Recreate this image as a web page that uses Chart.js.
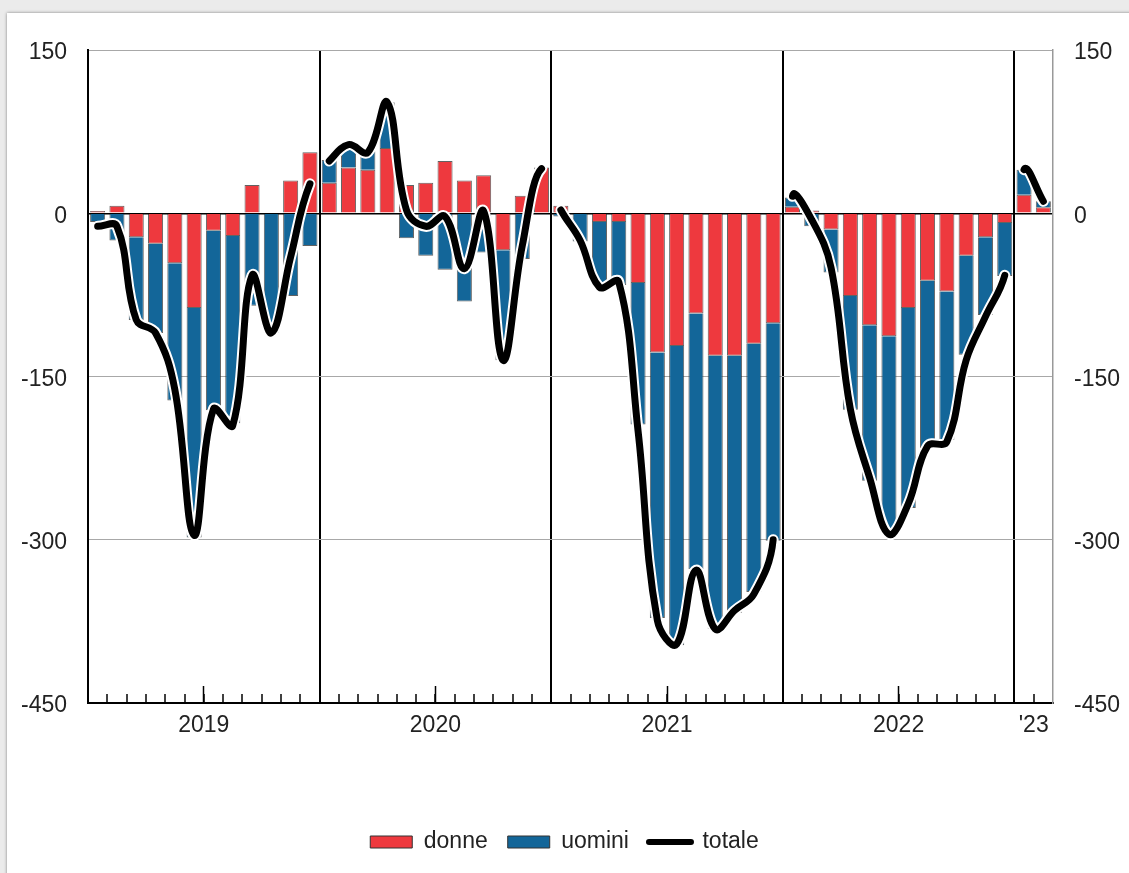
<!DOCTYPE html>
<html><head><meta charset="utf-8">
<script src="https://cdn.jsdelivr.net/npm/chart.js@4.4.0/dist/chart.umd.min.js"></script>
<style>
html,body{margin:0;padding:0;background:#ebebeb;width:1129px;height:873px;overflow:hidden;}
#panel{position:absolute;left:7px;top:13px;width:1140px;height:880px;background:#fff;box-shadow:0 0 3px rgba(0,0,0,0.45);}
#wrap{position:absolute;left:0;top:0;width:1129px;height:873px;}
</style></head><body>
<div id="panel"></div>
<div id="wrap"><canvas id="c" width="1129" height="873" style="width:1129px;height:873px"></canvas></div>
<script>
// ---- categories ----
const years = ['2019','2020','2021','2022','2023'];
const monthsPerYear = [12,12,12,12,2];
const monthNames = ['gen','feb','mar','apr','mag','giu','lug','ago','set','ott','nov','dic'];
const yearTickLabels = ['2019','2020','2021','2022',"'23"];
// ---- series (thousands) ----
const donne = [
  2, 7, -22, -28, -46, -87, -16, -21, 26, 0, 30, 56,
  28, 42, 40, 60, 26, 28, 48, 30, 35, -34, 16, 42,
  7, 0, -8, -8, -64, -128, -122, -92, -131, -131, -120, -101,
  6, 2.5, -15, -76, -103, -113, -87, -62, -72, -39, -22, -9,
  17, 5.5
];
const uomini = [
  -8, -25, -76, -82, -126, -211, -165, -172, -85, -110, -76, -30,
  21, 18, 17, 42, -23, -39, -52, -81, -36, -101, -42, -1,
  -3, -26, -58, -58, -130, -244, -275, -235, -251, -236, -228, -200,
  8.4, -12, -39.5, -104.6, -142.7, -181.7, -183.8, -153.7, -136.3, -91, -71.6, -48.7,
  23, 5.5
];
const totale = [
  -12, -12, -98, -110, -162, -296, -180, -195, -57, -110, -40, 27,
  48, 63, 56, 102, 3, -12, -3, -51, 2, -135, -30, 41,
  3, -25, -68, -63, -200, -374, -396, -328, -382, -365, -350, -300,
  15.6, -6, -50, -180, -243, -295, -267, -214, -210, -135, -95, -57,
  40, 11
];
const yMin = -450, yMax = 150, yStep = 150;

// ---- derived category helpers ----
const labels = [];
const yearStart = [];
const yearMid = {};
let k = 0;
years.forEach((y, i) => {
  yearStart.push(k);
  yearMid[k + Math.floor((monthsPerYear[i] - 1) / 2)] = yearTickLabels[i];
  for (let m = 0; m < monthsPerYear[i]; m++) { labels.push(monthNames[m] + ' ' + y); k++; }
});
const isYearStart = idx => idx > 0 && yearStart.includes(idx);
const isMidYear = idx => yearStart.some((s, i) => monthsPerYear[i] === 12 && idx === s + 6);

const RED = '#ee393e', BLUE = '#136699', INK = '#222';
const TRANSP = 'rgba(0,0,0,0)';
const breakSeg = color => ctx => (isYearStart(ctx.p1DataIndex) ? TRANSP : color);

Chart.defaults.font.family = "'Liberation Sans', Arial, Helvetica, sans-serif";
Chart.defaults.color = INK;

new Chart(document.getElementById('c'), {
  data: {
    labels: labels,
    datasets: [
      { type: 'line', label: 'totale', data: totale, borderColor: '#000', borderWidth: 7,
        borderCapStyle: 'round', borderJoinStyle: 'round', tension: 0.4, pointRadius: 0,
        stack: 'l1', segment: { borderColor: breakSeg('#000') } },
      { type: 'line', label: '_halo', data: totale, borderColor: '#fff', borderWidth: 11,
        borderCapStyle: 'round', borderJoinStyle: 'round', tension: 0.4, pointRadius: 0,
        stack: 'l2', segment: { borderColor: breakSeg('#fff') } },
      { type: 'bar', label: 'donne', data: donne, backgroundColor: RED,
        borderColor: 'rgba(45,45,45,0.75)', borderWidth: 1, stack: 'b',
        barPercentage: 0.78, categoryPercentage: 1 },
      { type: 'bar', label: 'uomini', data: uomini, backgroundColor: BLUE,
        borderColor: 'rgba(45,45,45,0.75)', borderWidth: 1, stack: 'b',
        barPercentage: 0.78, categoryPercentage: 1 }
    ]
  },
  options: {
    responsive: false,
    animation: false,
    layout: { padding: { left: 0, right: 0, top: 50, bottom: 9.5 } },
    plugins: {
      tooltip: { enabled: false },
      legend: {
        position: 'bottom',
        align: 'center',
        labels: {
          usePointStyle: true, pointStyleWidth: 42, boxWidth: 42, boxHeight: 12,
          padding: 20, color: INK, font: { size: 23 },
          generateLabels: chart => ['donne', 'uomini', 'totale'].map(name => {
            const i = chart.data.datasets.findIndex(d => d.label === name);
            const d = chart.data.datasets[i];
            const isLine = d.type === 'line';
            return {
              text: name, datasetIndex: i, hidden: false, fontColor: INK,
              fillStyle: isLine ? d.borderColor : d.backgroundColor,
              strokeStyle: isLine ? d.borderColor : '#333',
              lineWidth: isLine ? 6 : 1, lineCap: isLine ? 'round' : 'butt',
              pointStyle: isLine ? 'line' : 'rect'
            };
          })
        }
      }
    },
    scales: {
      x: {
        type: 'category', position: 'bottom', offset: true, stacked: true, weight: 1,
        grid: {
          offset: true, drawOnChartArea: true, drawTicks: true, tickLength: -9,
          color: ctx => (isYearStart(ctx.index) ? '#000' : TRANSP), lineWidth: 2,
          tickColor: ctx => (ctx.index > 0 ? '#000' : TRANSP), tickWidth: 1.5
        },
        border: { display: true, color: '#000', width: 2 },
        ticks: {
          autoSkip: false, maxRotation: 0, minRotation: 0, padding: 18, labelOffset: 9.65,
          color: INK, font: { size: 23 },
          callback: (v, i) => yearMid[i] || ''
        },
        afterFit: s => { s.height = 107.5; }
      },
      x2: {
        type: 'category', position: 'bottom', offset: true, weight: 0,
        grid: {
          offset: true, drawOnChartArea: false, drawTicks: true, tickLength: -17,
          color: TRANSP, tickColor: ctx => (isMidYear(ctx.index) ? '#000' : TRANSP), tickWidth: 1.5
        },
        border: { display: false },
        ticks: { display: false },
        afterFit: s => { s.height = 0; }
      },
      y: {
        position: 'left', min: yMin, max: yMax, stacked: true,
        ticks: { stepSize: yStep, padding: 21, labelOffset: 3, color: INK, font: { size: 23 } },
        grid: {
          drawTicks: false,
          color: ctx => (ctx.tick.value === 0 ? '#000' : (ctx.tick.value === yMin ? TRANSP : '#a8a8a8')),
          lineWidth: ctx => (ctx.tick.value === 0 ? 1.5 : 1)
        },
        border: { display: true, color: '#000', width: 2 },
        afterFit: s => { s.width = 88; }
      },
      y2: {
        position: 'right', min: yMin, max: yMax,
        ticks: { stepSize: yStep, padding: 21, labelOffset: 3, color: INK, font: { size: 23 } },
        grid: { drawOnChartArea: false, drawTicks: false },
        border: { display: true, color: '#999', width: 1.5 },
        afterFit: s => { s.width = 76; }
      }
    }
  }
});
</script>
</body></html>
